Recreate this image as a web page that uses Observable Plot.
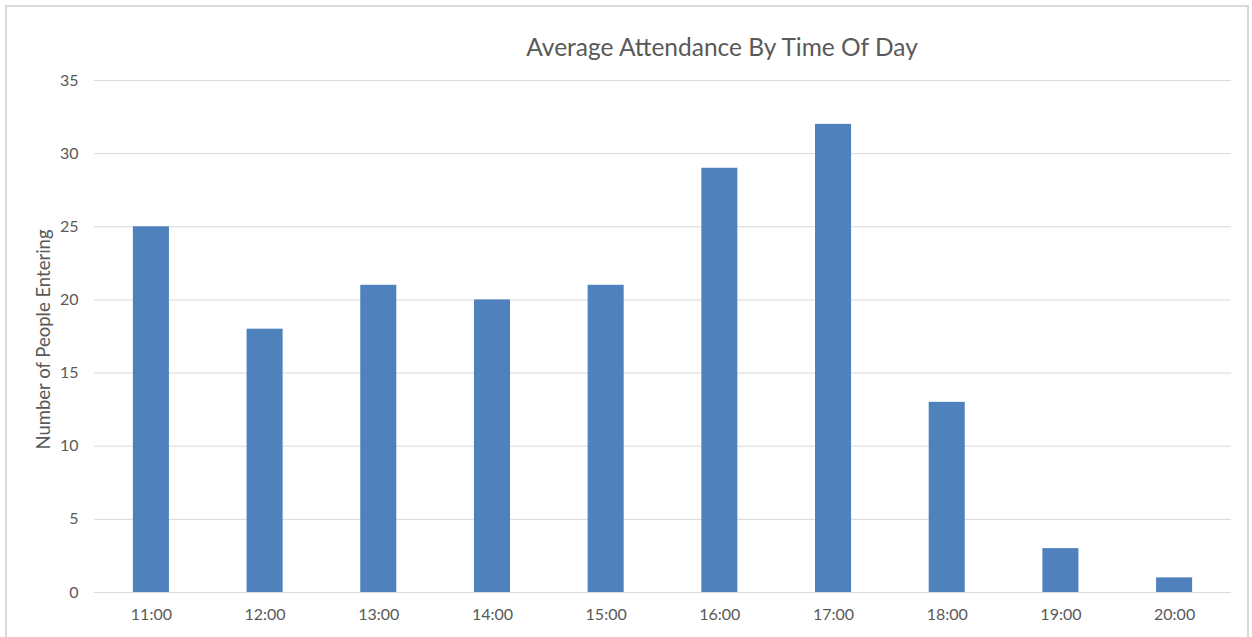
<!DOCTYPE html>
<html><head><meta charset="utf-8">
<script src="https://cdn.jsdelivr.net/npm/d3@7"></script>
<script src="https://cdn.jsdelivr.net/npm/@observablehq/plot@0.6"></script>
<style>
html,body{margin:0;padding:0;background:#fff;}
#frame{position:absolute;left:5px;top:5px;width:1244px;height:640px;border:2px solid #d9d9d9;box-sizing:border-box;}
#chart{position:absolute;left:0;top:0;}
</style></head>
<body>
<div id="frame"></div>
<div id="chart"></div>
<script>
const title = "Average Attendance By Time Of Day";
const yLabel = "Number of People Entering";
const times = ["11:00","12:00","13:00","14:00","15:00","16:00","17:00","18:00","19:00","20:00"];
const attendance = [25,18,21,20,21,29,32,13,3,1];
const yTicks = [0,5,10,15,20,25,30,35];

const data = times.map((t,i)=>({time:t, value:attendance[i]}));
const font = "Lato, 'Open Sans', sans-serif";
const grey = "#595959";

const plot = Plot.plot({
  width:1252, height:637,
  marginLeft:94, marginRight:21, marginTop:80, marginBottom:45,
  style:{fontFamily:font, fontSize:"16px", color:grey, background:"transparent", overflow:"visible"},
  x:{domain:times, paddingInner:0.683, paddingOuter:0.342, round:false, label:null},
  y:{domain:[0,35], ticks:yTicks, label:null},
  marks:[
    Plot.gridY(yTicks,{stroke:"#d9d9d9", strokeOpacity:1, strokeWidth:1}),
    Plot.barY(data,{x:"time", y:"value", fill:"#4f81bd"}),
    Plot.axisY({ticks:yTicks, tickSize:0, tickPadding:16, fill:grey, fontSize:16, label:null}),
    Plot.axisX({tickSize:0, tickPadding:16, fill:grey, fontSize:16, label:null}),
    Plot.text([yLabel],{frameAnchor:"left", dx:-50, dy:3, rotate:-90, textAnchor:"middle", fill:grey, fontSize:18.5, text:d=>d}),
    Plot.text([title],{frameAnchor:"top", dy:-42, dx:59, fill:grey, fontSize:24.5, text:d=>d})
  ]
});
document.getElementById("chart").appendChild(plot);
</script>
</body></html>
